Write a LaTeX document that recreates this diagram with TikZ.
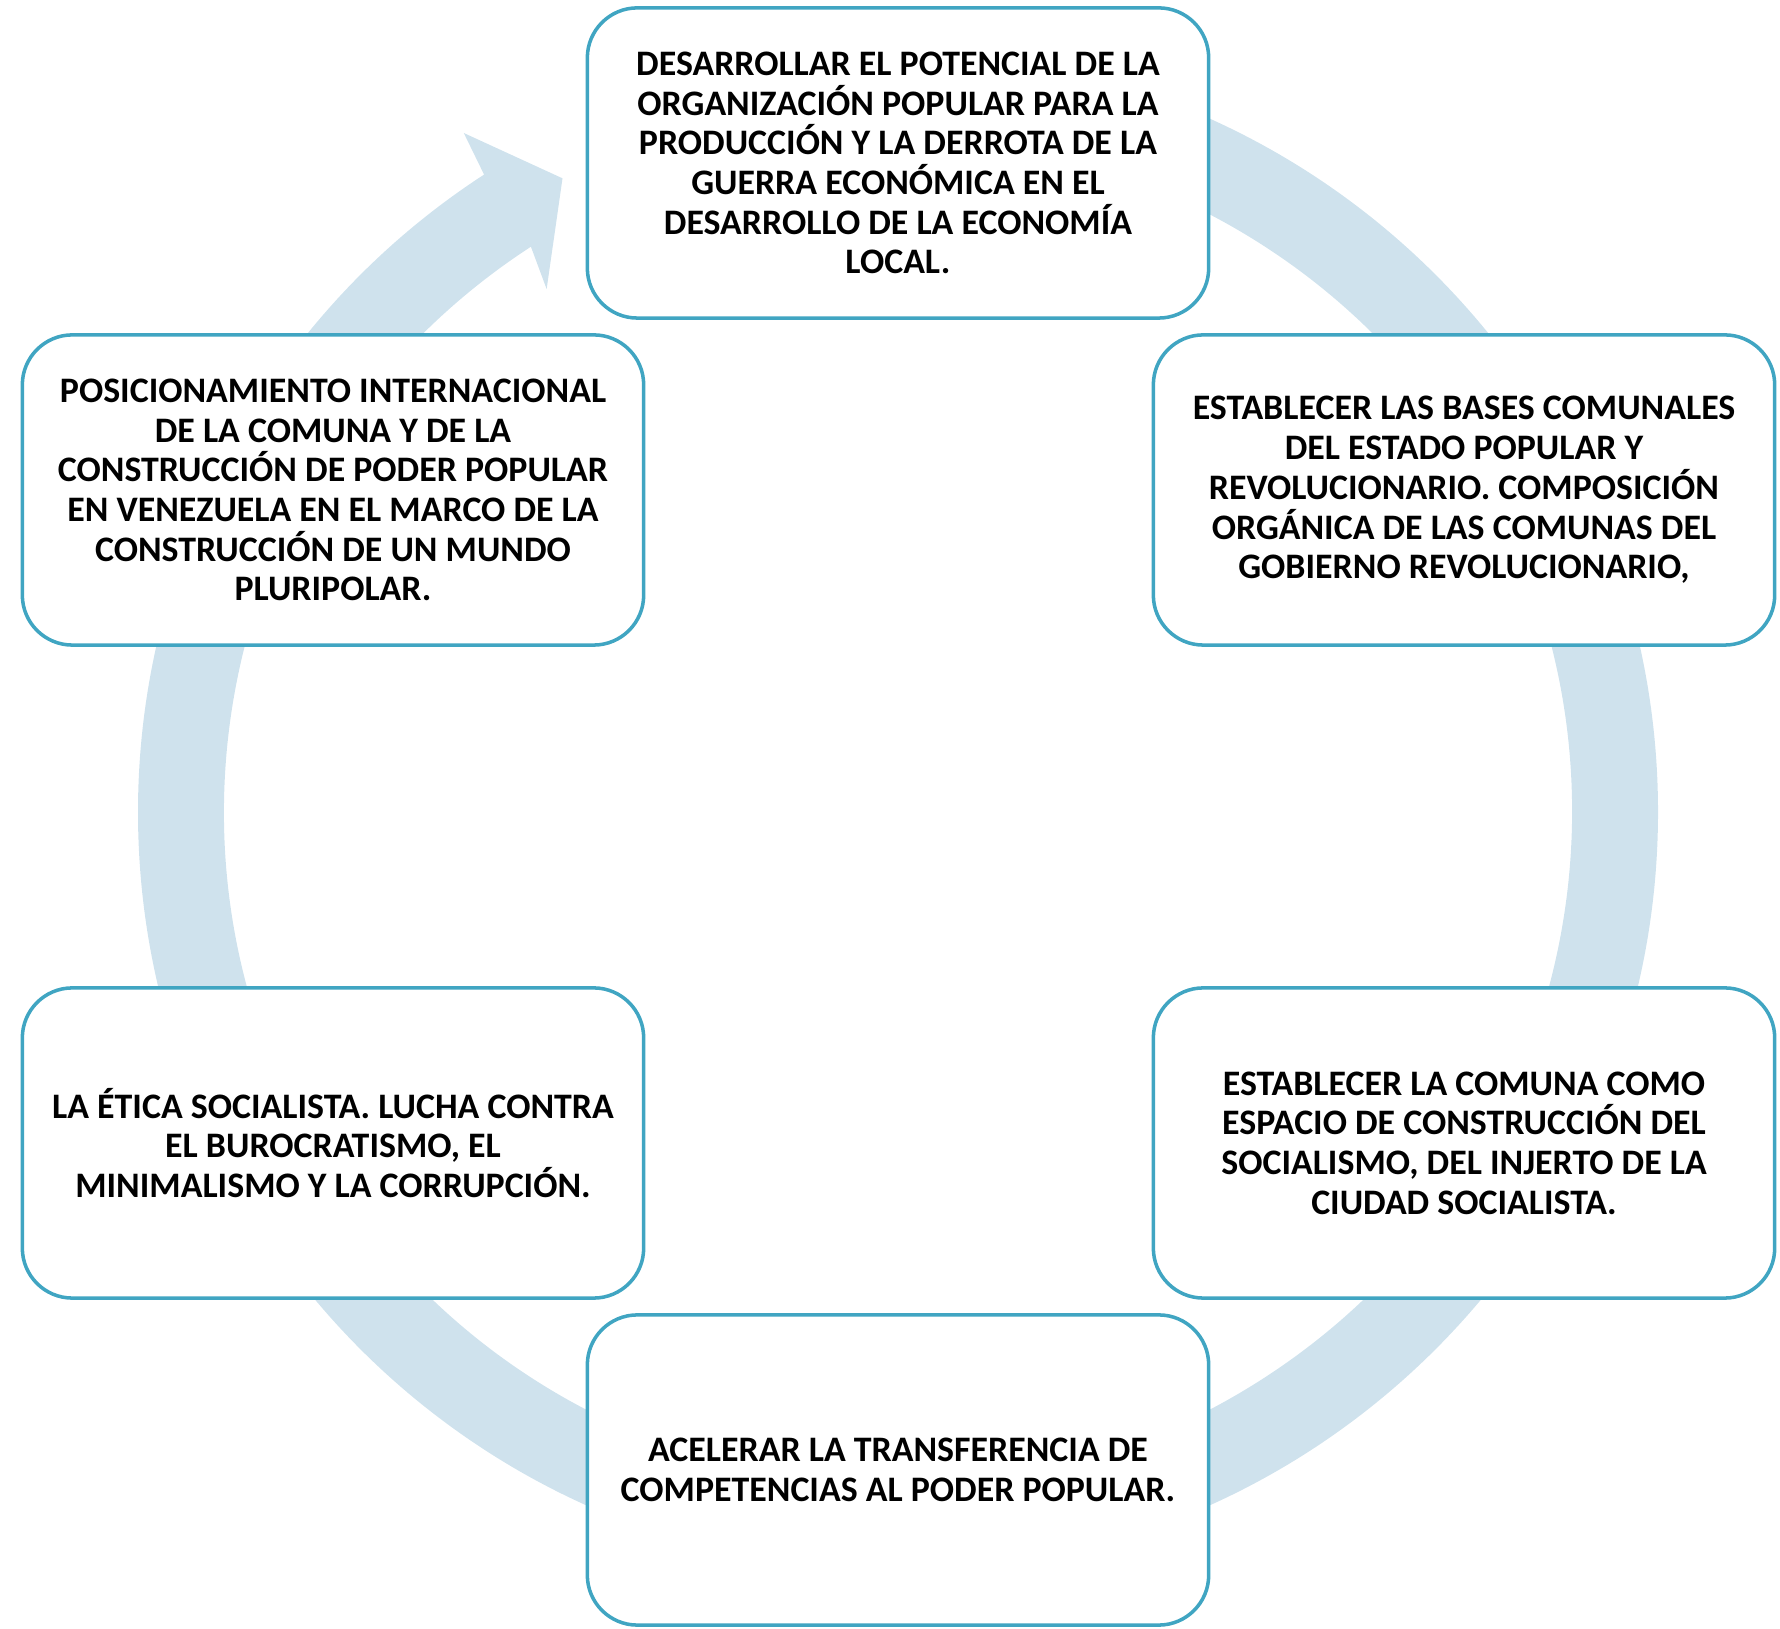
\documentclass[tikz,border=0pt]{standalone}
\usepackage{fontspec}
\setmainfont{Carlito}
\usetikzlibrary{positioning}

\definecolor{ringblue}{RGB}{207,226,237}
\definecolor{boxteal}{RGB}{64,165,194}

\begin{document}
\begin{tikzpicture}[x=0.01cm, y=0.01cm,
    goalbox/.style={draw=boxteal, line width=1pt, fill=white, rounded corners=0.5cm,
        minimum width=6.21cm, minimum height=3.10cm, inner sep=0pt, align=center,
        font=\fontsize{10.2}{11.3}\selectfont\bfseries}]
    \useasboundingbox (0,0) rectangle (1780,1628);

    \coordinate (c) at (898,816);

    % cycle arrow behind the boxes
    \path[fill=ringblue] ([shift={(c)}]90:760) arc[start angle=90, end angle=-237, radius=760]
        -- ([shift={(c)}]-237.4:806) -- ([shift={(c)}]-242.1:717) -- ([shift={(c)}]-236.1:630)
        -- ([shift={(c)}]-237:674) arc[start angle=-237, end angle=90, radius=674] -- cycle;

    % boxes
    \node[goalbox] (produccion) at (898,1465) {DESARROLLAR EL POTENCIAL DE LA\\ORGANIZACIÓN POPULAR PARA LA\\PRODUCCIÓN Y LA DERROTA DE LA\\GUERRA ECONÓMICA EN EL\\DESARROLLO DE LA ECONOMÍA\\LOCAL.};
    \node[goalbox] (estado) at (1464,1138) {ESTABLECER LAS BASES COMUNALES\\DEL ESTADO POPULAR Y\\REVOLUCIONARIO. COMPOSICIÓN\\ORGÁNICA DE LAS COMUNAS DEL\\GOBIERNO REVOLUCIONARIO,};
    \node[goalbox] (comuna) at (1464,485) {ESTABLECER LA COMUNA COMO\\ESPACIO DE CONSTRUCCIÓN DEL\\SOCIALISMO, DEL INJERTO DE LA\\CIUDAD SOCIALISTA.};
    \node[goalbox] (transfer) at (898,158) {ACELERAR LA TRANSFERENCIA DE\\COMPETENCIAS AL PODER POPULAR.};
    \node[goalbox] (etica) at (333,485) {LA ÉTICA SOCIALISTA. LUCHA CONTRA\\EL BUROCRATISMO, EL\\MINIMALISMO Y LA CORRUPCIÓN.};
    \node[goalbox] (mundo) at (333,1138) {POSICIONAMIENTO INTERNACIONAL\\DE LA COMUNA Y DE LA\\CONSTRUCCIÓN DE PODER POPULAR\\EN VENEZUELA EN EL MARCO DE LA\\CONSTRUCCIÓN DE UN MUNDO\\PLURIPOLAR.};
\end{tikzpicture}
\end{document}
